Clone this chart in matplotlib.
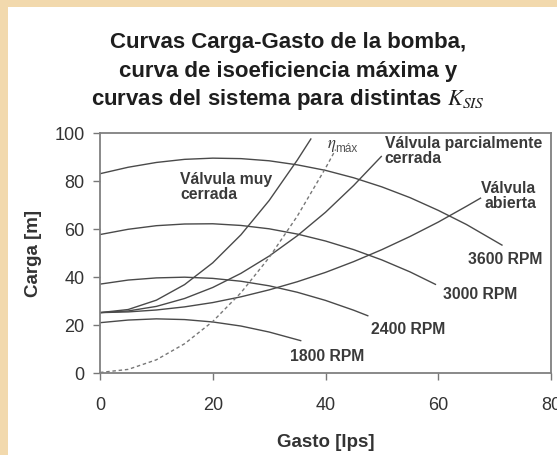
import matplotlib
matplotlib.use("Agg")
import matplotlib.pyplot as plt
from matplotlib.patches import Rectangle

plt.rcParams['font.family'] = ['Liberation Sans', 'DejaVu Sans']
plt.rcParams['mathtext.fontset'] = 'stix'

# curvas de la bomba (gasto lps, carga m)
q_3600 = [0, 5, 10, 15, 20, 25, 30, 35, 40, 45, 50, 55, 60, 65, 71.3]
h_3600 = [83.0, 85.7, 87.7, 89.0, 89.5, 89.3, 88.4, 86.7, 84.4, 81.3, 77.5, 73.0, 67.7, 61.8, 53.2]
q_3000 = [0, 5, 10, 15, 20, 25, 30, 35, 40, 45, 50, 55, 59.5]
h_3000 = [57.6, 59.8, 61.3, 62.0, 62.1, 61.4, 60.0, 57.8, 54.9, 51.3, 47.0, 42.0, 36.8]
q_2400 = [0, 5, 10, 15, 20, 25, 30, 35, 40, 45, 47.5]
h_2400 = [36.9, 38.6, 39.5, 39.8, 39.3, 38.1, 36.2, 33.5, 30.1, 26.0, 23.7]
q_1800 = [0, 5, 10, 15, 20, 25, 30, 35.6]
h_1800 = [20.8, 21.9, 22.4, 22.1, 21.1, 19.4, 16.9, 13.3]

# curvas del sistema
q_muy = [0, 5, 10, 15, 20, 25, 30, 35, 37.4]
h_muy = [25.0, 26.3, 30.2, 36.7, 45.8, 57.5, 71.8, 88.7, 97.5]
q_parc = [0, 5, 10, 15, 20, 25, 30, 35, 40, 45, 49.9]
h_parc = [25.0, 25.7, 27.6, 30.9, 35.5, 41.4, 48.6, 57.1, 66.9, 78.1, 90.2]
q_abi = [0, 5, 10, 15, 20, 25, 30, 35, 40, 45, 50, 55, 60, 65, 67.5]
h_abi = [25.0, 25.3, 26.1, 27.4, 29.2, 31.6, 34.5, 37.9, 41.8, 46.3, 51.3, 56.8, 62.8, 69.4, 72.8]

# isoeficiencia maxima
q_eta = [0, 5, 10, 15, 20, 25, 30, 35, 40, 41.8]
h_eta = [0.0, 1.3, 5.3, 12.0, 21.3, 33.3, 48.0, 65.3, 85.3, 93.1]

rpm_labels = ["3600 RPM", "3000 RPM", "2400 RPM", "1800 RPM"]

fig = plt.figure(figsize=(5.57, 4.56), dpi=100)
fig.patch.set_facecolor('#f2d9ad')
fig.patches.append(Rectangle((8 / 557, 0), 1, 1 - 8 / 456, transform=fig.transFigure,
                             facecolor='white', edgecolor='none', zorder=-10))

ax = fig.add_axes([100 / 557, 1 - 373.5 / 456, 451 / 557, 239.5 / 456])
ax.set_facecolor('white')

lc = '#4a4a4a'
for q, h in [(q_3600, h_3600), (q_3000, h_3000), (q_2400, h_2400), (q_1800, h_1800),
             (q_muy, h_muy), (q_parc, h_parc), (q_abi, h_abi)]:
    ax.plot(q, h, color=lc, lw=1.0)
ax.plot(q_eta, h_eta, color='#777777', lw=1.0, ls=(0, (2.5, 2)))

ax.set_xlim(0, 80)
ax.set_ylim(0, 100)
ax.set_xticks([0, 20, 40, 60, 80])
ax.set_yticks([0, 20, 40, 60, 80, 100])
ax.tick_params(direction='out', length=5, width=1, color='#777777',
               labelsize=13, labelcolor='#333333', pad=6)
ax.tick_params(axis='x', pad=12)
for s in ax.spines.values():
    s.set_color('#808080')
    s.set_linewidth(1.3)

ax.set_xlabel('Gasto [lps]', fontsize=13.5, fontweight='bold', color='#333333', labelpad=14)
ax.set_ylabel('Carga [m]', fontsize=13.5, fontweight='bold', color='#333333', labelpad=9)

tc = '#3a3a3a'
fs = 11.3
ax.text(14.2, 84, 'Válvula muy\ncerrada', fontsize=fs, fontweight='bold', color=tc,
        va='top', ha='left', linespacing=1.0)
# eta con subindice "máx" en letra sans
ax.text(40.2, 95, r'$\eta$', fontsize=12, color=tc, va='center', ha='left')
ax.text(41.7, 93.6, 'máx', fontsize=8.5, color='#555555', va='center', ha='left')
ax.text(50.5, 99, 'Válvula parcialmente\ncerrada', fontsize=fs, fontweight='bold', color=tc,
        va='top', ha='left', linespacing=1.0)
ax.text(77.4, 80.5, 'Válvula\nabierta', fontsize=fs, fontweight='bold', color=tc,
        va='top', ha='right', multialignment='right', linespacing=1.0)
for lab, (x, y) in zip(rpm_labels, [(71.8, 47.8), (67.5, 32.9), (54.6, 18.3), (40.2, 6.9)]):
    ax.text(x, y, lab, fontsize=fs, fontweight='bold', color=tc, ha='center', va='center')

title_lines = ['Curvas Carga-Gasto de la bomba,', 'curva de isoeficiencia máxima y',
               r'curvas del sistema para distintas $K_{SIS}$']
for i, t in enumerate(title_lines):
    fig.text(288 / 557, 1 - (48 + 28.5 * i) / 456, t, fontsize=16, fontweight='bold',
             color='#1e1e1e', ha='center', va='baseline')

fig.savefig('out.png', dpi=100, facecolor=fig.get_facecolor())
